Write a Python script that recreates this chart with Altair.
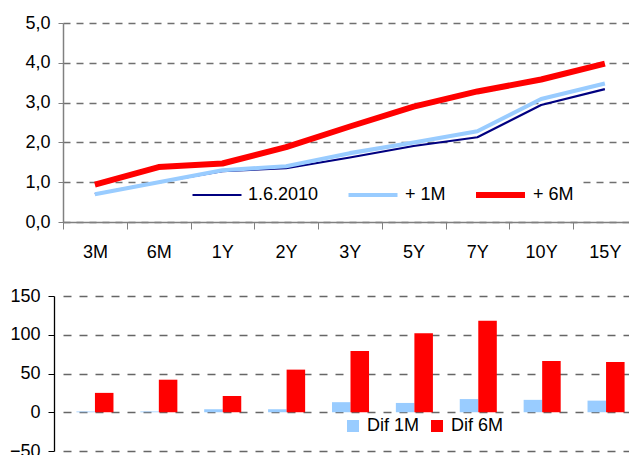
import altair as alt
import pandas as pd

categories = ["3M", "6M", "1Y", "2Y", "3Y", "5Y", "7Y", "10Y", "15Y"]
line_series = ["1.6.2010", "+ 1M", "+ 6M"]
curve_now = [0.70, 1.00, 1.28, 1.35, 1.62, 1.91, 2.13, 2.94, 3.34]
curve_1m = [0.70, 1.00, 1.30, 1.40, 1.73, 2.00, 2.28, 3.09, 3.48]
curve_6m = [0.94, 1.38, 1.47, 1.88, 2.40, 2.90, 3.28, 3.58, 3.98]
bar_series = ["Dif 1M", "Dif 6M"]
dif_1m = [1, 1, 4, 4, 13, 12, 17, 16, 15]
dif_6m = [25, 42, 21, 55, 79, 102, 118, 66, 65]
top_ticks = [0, 1, 2, 3, 4, 5]
bottom_ticks = [-50, 0, 50, 100, 150]

FONT = "Liberation Sans"

line_rows = []
for s, vals in zip(line_series, [curve_now, curve_1m, curve_6m]):
    for i, (c, v) in enumerate(zip(categories, vals)):
        line_rows.append({"cat": c, "idx": i, "series": s, "value": v})
line_df = pd.DataFrame(line_rows)

bar_rows = []
for s, vals in zip(bar_series, [dif_1m, dif_6m]):
    for c, v in zip(categories, vals):
        bar_rows.append({"cat": c, "series": s, "value": v})
bar_df = pd.DataFrame(bar_rows)

TOP_W = 566
STEP = 63.75
x_max = -0.5 + TOP_W / STEP
cat_js = "[" + ",".join("'%s'" % c for c in categories) + "]"
SHIFT = 9  # bottom panel starts 9px left of the top one

top_legend = alt.Legend(
    orient="none", legendX=125, legendY=158, direction="horizontal", title=None,
    symbolType="stroke", symbolSize=2400, clipHeight=22, labelFontSize=18, labelFont=FONT,
    labelColor="black", labelOffset=5, columnPadding=27, padding=3,
    fillColor="white", strokeColor="white",
)

top = alt.Chart(line_df).mark_line(strokeJoin="round").encode(
    x=alt.X("idx:Q", scale=alt.Scale(domain=[-0.5, x_max], nice=False, zero=False),
            axis=alt.Axis(title=None, values=list(range(len(categories))),
                          labelExpr=cat_js + "[datum.value]",
                          tickOffset=-STEP / 2, labelOffset=STEP / 2,
                          labelFlush=False, labelOverlap=False, labelAngle=0,
                          domainColor="#808080", tickColor="#808080", tickSize=7,
                          labelPadding=14, labelFontSize=18, labelFont=FONT,
                          labelColor="black", grid=False, domainWidth=1.5)),
    y=alt.Y("value:Q", scale=alt.Scale(domain=[0, 5]),
            axis=alt.Axis(title=None, values=top_ticks,
                          labelExpr="replace(format(datum.value, '.1f'), '.', ',')",
                          domainColor="#808080", tickColor="#808080", tickSize=5, labelPadding=8,
                          labelFontSize=18, labelFont=FONT, labelColor="black", minExtent=63,
                          gridDash=[7, 6], gridColor="#707070", gridWidth=1.3, domainWidth=1.5)),
    color=alt.Color("series:N", scale=alt.Scale(domain=line_series, range=["#000080", "#99CCFF", "#FF0000"]),
                    legend=top_legend),
    strokeWidth=alt.StrokeWidth("series:N", scale=alt.Scale(domain=line_series, range=[2.2, 6, 5]),
                                legend=top_legend),
).properties(width=TOP_W, height=199)

bottom = alt.Chart(bar_df).mark_bar(xOffset=-SHIFT).encode(
    x=alt.X("cat:N", sort=categories,
            scale=alt.Scale(paddingInner=0.42, paddingOuter=0.21), axis=None),
    xOffset=alt.XOffset("series:N", sort=bar_series, scale=alt.Scale(paddingInner=0, paddingOuter=0)),
    y=alt.Y("value:Q", scale=alt.Scale(domain=[-50, 150]),
            axis=alt.Axis(title=None, values=bottom_ticks, offset=SHIFT, domainColor="black",
                          tickColor="black", tickSize=6, labelPadding=8, labelFontSize=18,
                          labelFont=FONT, labelColor="black", minExtent=54, gridDash=[8, 8],
                          gridColor="#666666", gridWidth=1.6, domainWidth=1.3)),
    color=alt.Color("series:N", scale=alt.Scale(domain=bar_series, range=["#99CCFF", "#FF0000"]),
                    legend=alt.Legend(orient="none", legendX=281, legendY=121, direction="horizontal",
                                      title=None, symbolType="square", symbolSize=144, labelFontSize=18,
                                      labelFont=FONT, labelColor="black", labelOffset=5, columnPadding=8,
                                      padding=0, symbolStrokeWidth=0, symbolOpacity=1)),
).properties(width=575, height=155)

chart = alt.vconcat(top, bottom, spacing=26).resolve_scale(
    color="independent", strokeWidth="independent", x="independent", y="independent"
).resolve_legend(color="independent", strokeWidth="independent").properties(
    autosize=alt.AutoSizeParams(type="none"),
    padding={"left": 63, "top": 23, "right": 566, "bottom": 432},
    background="white",
).configure_view(stroke=None)

chart.save("out.html", embed_options={"renderer": "svg", "actions": False})
